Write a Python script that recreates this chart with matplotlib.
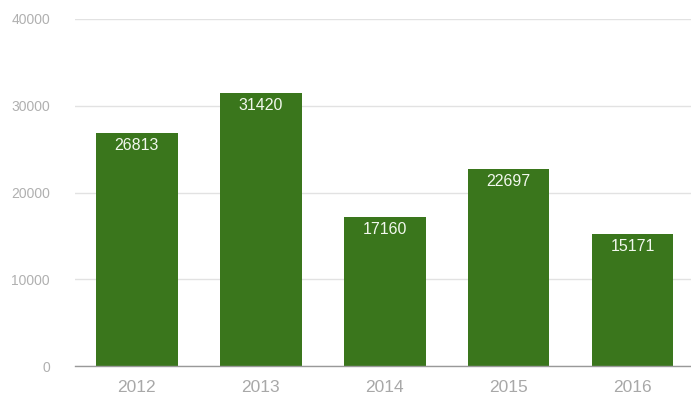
import matplotlib.pyplot as plt

years = ["2012", "2013", "2014", "2015", "2016"]
values = [26813, 31420, 17160, 22697, 15171]
y_ticks = [0, 10000, 20000, 30000, 40000]

plt.rcParams['font.family'] = ['Liberation Sans', 'DejaVu Sans']

fig = plt.figure(figsize=(6.91, 3.95), dpi=100)
ax = fig.add_axes([0.1085, 0.0734, 0.8965, 0.8785])

x = range(len(years))
bars = ax.bar(x, values, width=0.66, color="#3a761c", zorder=2)

# value labels inside the top of each bar
for rect, v in zip(bars, values):
    ax.annotate(str(v), (rect.get_x() + rect.get_width() / 2, v),
                xytext=(0, -3.5), textcoords="offset points",
                ha="center", va="top", color="#f2f8ee", fontsize=11.5)

ax.set_xlim(-0.5, len(years) - 0.5)
ax.set_ylim(0, 40000)
ax.set_yticks(y_ticks)
ax.set_yticklabels([str(t) for t in y_ticks], color="#b0b0b0", fontsize=10)
ax.set_xticks(list(x))
ax.set_xticklabels(years, color="#a8a8a8", fontsize=12.5)
ax.tick_params(axis="both", length=0)
ax.tick_params(axis="y", pad=18)
ax.tick_params(axis="x", pad=10)

ax.grid(axis="y", color="#e2e2e2", linewidth=1, zorder=0)
for side in ["top", "right", "left"]:
    ax.spines[side].set_visible(False)
ax.spines["bottom"].set_color("#999999")
ax.spines["bottom"].set_linewidth(1)
ax.spines["bottom"].set_zorder(3)

fig.savefig("out.png", dpi=100)
